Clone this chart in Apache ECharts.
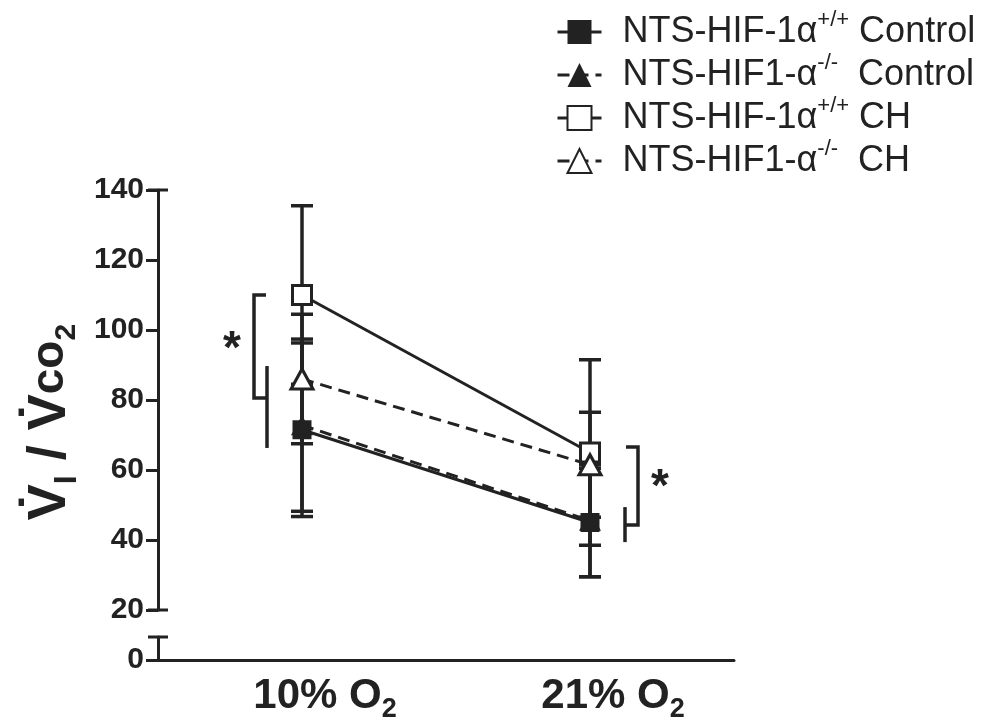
<!DOCTYPE html>
<html>
<head>
    <meta charset="utf-8">
    <title>VI / VCO2</title>
    <script src="https://cdn.jsdelivr.net/npm/echarts@6/dist/echarts.min.js"></script>
    <style>
        html, body { margin: 0; padding: 0; background: #fff; }
        #chart1 { width: 987px; height: 724px; }
    </style>
</head>
<body>
<div id="chart1"></div>
<script type="text/javascript">
    // data
    var categories = ['10% O2', '21% O2'];
    var seriesNames = ['NTS-HIF-1α+/+ Control', 'NTS-HIF1-α-/-  Control', 'NTS-HIF-1α+/+ CH', 'NTS-HIF1-α-/-  CH'];
    var wtControl = [71.5, 45];
    var wtControlErr = [24.8, 15.5];
    var koControl = [72.8, 45.5];
    var koControlErr = [24.6, 16];
    var wtCH = [110, 65];
    var wtCHErr = [25.5, 26.5];
    var koCH = [86, 61.5];
    var koCHErr = [18.5, 15];
    var yTicksUpper = [20, 140, 20];   // min, max, step
    var yLower = [0, 6.6];
    // significance brackets: [category, outerTop, outerBottom, innerTop, innerBottom, side]
    var brackets = [[0, 110, 80.6, 89.7, 66.3, -1], [1, 66.6, 44.3, 49.4, 39.4, 1]];
    var stars = [[0, 96.5, -1], [1, 57, 1]];

    var INK = '#222';
    var FONT = '"Liberation Sans", Arial, sans-serif';

    var myChart1 = echarts.init(document.getElementById('chart1'));

    function lineSeries(name, data, symbol, filled, dashed) {
        return {
            name: name, type: 'line', xAxisIndex: 0, yAxisIndex: 0,
            data: data,
            symbol: symbol,
            symbolSize: symbol === 'rect' ? 19 : [22, 20],
            lineStyle: {color: INK, width: 3, type: dashed ? [12, 7] : 'solid'},
            itemStyle: {color: filled ? INK : '#fff', borderColor: INK, borderWidth: filled ? 0 : 3},
            emphasis: {disabled: true},
            z: 5
        };
    }

    function errSeries(means, errs) {
        return {
            type: 'custom', xAxisIndex: 0, yAxisIndex: 0, silent: true, z: 2,
            encode: {x: 0, y: [1, 2]},
            data: means.map(function (m, i) { return [i, m - errs[i], m + errs[i]]; }),
            renderItem: function (params, api) {
                var lo = api.coord([api.value(0), api.value(1)]);
                var hi = api.coord([api.value(0), api.value(2)]);
                var w = 11, st = {stroke: INK, lineWidth: 3.5};
                return {type: 'group', children: [
                    {type: 'line', shape: {x1: lo[0], y1: lo[1], x2: hi[0], y2: hi[1]}, style: st},
                    {type: 'line', shape: {x1: lo[0] - w, y1: lo[1], x2: lo[0] + w, y2: lo[1]}, style: st},
                    {type: 'line', shape: {x1: hi[0] - w, y1: hi[1], x2: hi[0] + w, y2: hi[1]}, style: st}
                ]};
            }
        };
    }

    // little end caps of the broken y axis
    function capSeries(xi, yi, values) {
        return {
            type: 'custom', xAxisIndex: xi, yAxisIndex: yi, silent: true, z: 3,
            encode: {y: 0},
            data: values.map(function (v) { return [v]; }),
            renderItem: function (params, api) {
                var p = api.coord([0, api.value(0)]);
                var x = params.coordSys.x;
                return {type: 'line', shape: {x1: x - 10, y1: p[1], x2: x + 10, y2: p[1]},
                    style: {stroke: INK, lineWidth: 3}};
            }
        };
    }

    var bracketSeries = {
        type: 'custom', xAxisIndex: 0, yAxisIndex: 0, silent: true, z: 3,
        encode: {x: 0, y: [1, 2]},
        data: brackets,
        renderItem: function (params, api) {
            var side = api.value(5);
            var cx = api.coord([api.value(0), api.value(1)])[0];
            var ot = api.coord([api.value(0), api.value(1)])[1];
            var ob = api.coord([api.value(0), api.value(2)])[1];
            var it = api.coord([api.value(0), api.value(3)])[1];
            var ib = api.coord([api.value(0), api.value(4)])[1];
            var ox = cx + side * 48, ix = cx + side * 35;
            var st = {stroke: INK, lineWidth: 3.5, fill: null, lineJoin: 'miter'};
            return {type: 'group', children: [
                {type: 'polyline', shape: {points: [[ox - side * 12, ot], [ox, ot], [ox, ob], [ix, ob]]}, style: st},
                {type: 'line', shape: {x1: ix, y1: it, x2: ix, y2: ib}, style: st}
            ]};
        }
    };

    var starSeries = {
        type: 'custom', xAxisIndex: 0, yAxisIndex: 0, silent: true, z: 3,
        encode: {x: 0, y: 1},
        data: stars,
        renderItem: function (params, api) {
            var p = api.coord([api.value(0), api.value(1)]);
            return {type: 'text', x: p[0] + api.value(2) * 70, y: p[1] + 8,
                style: {text: '*', font: 'bold 46px ' + FONT, fill: INK, align: 'center', verticalAlign: 'middle'}};
        }
    };

    var legendRich = {
        t: {fontSize: 36, fontFamily: FONT, color: INK, lineHeight: 40},
        p: {fontSize: 36, fontFamily: FONT, color: INK, lineHeight: 40, padding: [0, 0, 0, 16]},
        sup: {fontSize: 22, fontFamily: FONT, color: INK, lineHeight: 22, padding: [0, 0, 24, 0]}
    };

    myChart1.setOption({
        animation: false,
        backgroundColor: '#fff',
        grid: [
            {left: 158, top: 190, width: 576, height: 420},
            {left: 158, top: 637, width: 576, height: 23}
        ],
        legend: {
            orient: 'vertical', left: 551, top: 4,
            itemWidth: 44, itemHeight: 30, itemGap: -3,
            selectedMode: false,
            data: seriesNames,
            lineStyle: {width: 3},
            formatter: function (name) {
                var m = name.match(/^(.*α)(\+\/\+|-\/-)(.*)$/);
                return '{p|' + m[1] + '}{sup|' + m[2] + '}{t|' + m[3].replace(/ /g, '\u00a0') + '}';
            },
            textStyle: {rich: legendRich}
        },
        xAxis: [
            {gridIndex: 0, type: 'category', data: categories, boundaryGap: true, show: false},
            {
                gridIndex: 1, type: 'category', data: categories, boundaryGap: true,
                axisLine: {lineStyle: {color: INK, width: 3}},
                axisTick: {alignWithLabel: true, length: 11, lineStyle: {color: INK, width: 3}},
                axisLabel: {
                    margin: 14,
                    formatter: function (v) { return '{a|' + v.slice(0, -1) + '}{b|' + v.slice(-1) + '}'; },
                    rich: {
                        a: {fontSize: 42, fontWeight: 'bold', fontFamily: FONT, color: INK, lineHeight: 44, padding: [0, 0, 0, 46]},
                        b: {fontSize: 27, fontWeight: 'bold', fontFamily: FONT, color: INK, lineHeight: 27, padding: [28, 0, 0, 0]}
                    }
                }
            }
        ],
        yAxis: [
            {
                gridIndex: 0, type: 'value', min: yTicksUpper[0], max: yTicksUpper[1], interval: yTicksUpper[2],
                axisLine: {show: true, lineStyle: {color: INK, width: 3}},
                axisTick: {show: true, length: 12, lineStyle: {color: INK, width: 3}},
                axisLabel: {margin: 14, fontSize: 30, fontWeight: 'bold', fontFamily: FONT, color: INK},
                splitLine: {show: false}
            },
            {
                gridIndex: 1, type: 'value', min: yLower[0], max: yLower[1],
                axisLine: {show: true, lineStyle: {color: INK, width: 3}},
                axisTick: {show: true, length: 12, customValues: [0], lineStyle: {color: INK, width: 3}},
                axisLabel: {margin: 14, customValues: [0], fontSize: 30, fontWeight: 'bold', fontFamily: FONT, color: INK},
                splitLine: {show: false}
            }
        ],
        graphic: [{
            type: 'text', x: 50, y: 422, rotation: Math.PI / 2,
            style: {
                text: 'V\u0307{i|I}{m| / V\u0307}{c|co}{s|2}',
                font: 'bold 54px ' + FONT, fill: INK, align: 'center', verticalAlign: 'middle',
                rich: {
                    m: {fontSize: 54, fontWeight: 'bold', fontFamily: FONT, fill: INK, lineHeight: 60},
                    i: {fontSize: 32, fontWeight: 'bold', fontFamily: FONT, fill: INK, lineHeight: 32, padding: [34, 0, 0, 0]},
                    c: {fontSize: 46, fontWeight: 'bold', fontFamily: FONT, fill: INK, lineHeight: 60},
                    s: {fontSize: 30, fontWeight: 'bold', fontFamily: FONT, fill: INK, lineHeight: 30, padding: [34, 0, 0, 0]}
                }
            }
        }],
        series: [
            errSeries(wtControl, wtControlErr),
            errSeries(koControl, koControlErr),
            errSeries(wtCH, wtCHErr),
            errSeries(koCH, koCHErr),
            bracketSeries,
            starSeries,
            capSeries(0, 0, [140, 20]),
            capSeries(1, 1, [yLower[1]]),
            lineSeries(seriesNames[0], wtControl, 'rect', true, false),
            lineSeries(seriesNames[1], koControl, 'triangle', true, true),
            lineSeries(seriesNames[2], wtCH, 'rect', false, false),
            lineSeries(seriesNames[3], koCH, 'triangle', false, true)
        ]
    });
</script>
</body>
</html>
